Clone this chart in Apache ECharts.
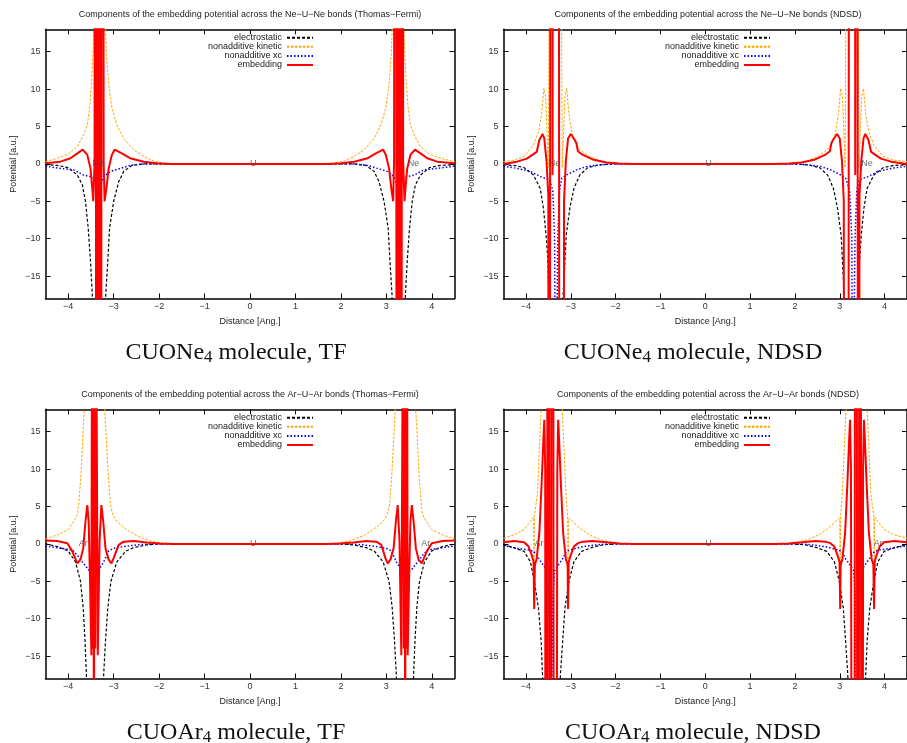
<!DOCTYPE html>
<html>
<head>
<meta charset="utf-8">
<script src="https://cdn.jsdelivr.net/npm/echarts@6.0.0/dist/echarts.min.js"></script>
<style>
  html, body { margin: 0; padding: 0; background: #fff; }
  #chart { width: 907px; height: 743px; }
</style>
</head>
<body>
<div id="chart"></div>
<script>
// ticks and names
const xTicks = [-4, -3, -2, -1, 0, 1, 2, 3, 4];
const yTicks = [-15, -10, -5, 0, 5, 10, 15];
const seriesNames = ['electrostatic', 'nonadditive kinetic', 'nonadditive xc', 'embedding'];

const titles = [
  'Components of the embedding potential across the Ne\u2212U\u2212Ne bonds (Thomas\u2212Fermi)',
  'Components of the embedding potential across the Ne\u2212U\u2212Ne bonds (NDSD)',
  'Components of the embedding potential across the Ar\u2212U\u2212Ar bonds (Thomas\u2212Fermi)',
  'Components of the embedding potential across the Ar\u2212U\u2212Ar bonds (NDSD)'
];
const captions = [
  '{a|CUONe}{s|4}{a| molecule, TF}',
  '{a|CUONe}{s|4}{a| molecule, NDSD}',
  '{a|CUOAr}{s|4}{a| molecule, TF}',
  '{a|CUOAr}{s|4}{a| molecule, NDSD}'
];

// atom labels (left-justified at these x positions, y = 0)
const neAtoms = ['Ne', 'U', 'Ne'];
const arAtoms = ['Ar', 'U', 'Ar'];
const neTF_atomX = [-3.47, 0, 3.47];
const neND_atomX = [-3.49, 0, 3.48];
const arTF_atomX = [-3.77, 0, 3.77];
const arND_atomX = [-3.81, 0, 3.76];

// ---- CUONe4, Thomas-Fermi ----
const neTF_elec = [[-4.5,-0.1],[-4.24,-0.2],[-4.0,-0.5],[-3.8,-1.5],[-3.69,-2.8],[-3.62,-5],[-3.56,-8.6],[-3.51,-13],[-3.47,-17.5],[-3.44,-24],[-3.32,-60],[-3.19,-24],[-3.175,-17.5],[-3.13,-13],[-3.09,-8.6],[-3.0,-5],[-2.89,-2.4],[-2.78,-1.0],[-2.6,-0.2],[-2.34,0],
  [2.29,0],[2.55,-0.2],[2.73,-1.0],[2.84,-2.4],[2.95,-5],[3.04,-8.6],[3.08,-13],[3.125,-17.5],[3.14,-24],[3.27,-60],[3.39,-24],[3.42,-17.5],[3.46,-13],[3.51,-8.6],[3.57,-5],[3.64,-2.8],[3.75,-1.5],[3.95,-0.5],[4.19,-0.2],[4.5,-0.1]];
const neTF_kin = [[-4.5,0.3],[-4.24,0.76],[-4.0,1.3],[-3.8,2.3],[-3.66,3.9],[-3.58,5.2],[-3.53,7.5],[-3.49,10.6],[-3.45,15.5],[-3.43,20],[-3.32,60],[-3.19,20],[-3.16,14.6],[-3.11,10.6],[-3.04,7.5],[-2.93,5.2],[-2.78,3.4],[-2.56,1.9],[-2.34,1.0],[-2.12,0.4],[-1.9,0.1],[-1.6,0],
  [1.55,0],[1.85,0.1],[2.07,0.4],[2.29,1.0],[2.51,1.9],[2.73,3.4],[2.88,5.2],[2.99,7.5],[3.06,10.6],[3.11,14.6],[3.14,20],[3.27,60],[3.38,20],[3.40,15.5],[3.44,10.6],[3.48,7.5],[3.53,5.2],[3.61,3.9],[3.75,2.3],[3.95,1.3],[4.19,0.76],[4.5,0.3]];
const neTF_xc = [[-4.5,-0.3],[-4.17,-0.6],[-3.88,-0.8],[-3.66,-1.5],[-3.51,-1.7],[-3.44,-1.9],[-3.38,-2.6],[-3.32,-3.5],[-3.26,-2.4],[-3.22,-1.7],[-3.07,-1.0],[-2.85,-0.6],[-2.64,-0.2],[-2.34,0],
  [2.29,0],[2.59,-0.2],[2.8,-0.6],[3.02,-1.0],[3.17,-1.7],[3.21,-2.4],[3.27,-3.5],[3.33,-2.6],[3.39,-1.9],[3.46,-1.7],[3.61,-1.5],[3.83,-0.8],[4.12,-0.6],[4.5,-0.3]];
const neTF_emb = [[-4.5,0.1],[-4.17,0.3],[-3.95,0.76],[-3.8,1.4],[-3.68,1.9],[-3.58,1.2],[-3.51,-0.6],[-3.47,-3.3],[-3.45,-5.0],[-3.42,0.3],[-3.41,200],[-3.37,-200],[-3.33,200],[-3.29,-200],[-3.25,200],[-3.22,0.3],[-3.20,-5.0],[-3.16,-3.3],[-3.11,-0.6],[-3.04,1.2],[-2.98,1.9],[-2.82,1.4],[-2.64,0.76],[-2.34,0.3],[-2.05,0.1],[-1.76,0],
  [1.71,0],[2.0,0.1],[2.29,0.3],[2.59,0.76],[2.77,1.4],[2.93,1.9],[2.99,1.2],[3.06,-0.6],[3.11,-3.3],[3.15,-5.0],[3.17,0.3],[3.20,200],[3.24,-200],[3.28,200],[3.32,-200],[3.36,200],[3.37,0.3],[3.40,-5.0],[3.42,-3.3],[3.46,-0.6],[3.53,1.2],[3.63,1.9],[3.75,1.4],[3.9,0.76],[4.12,0.3],[4.5,0.1]];

// ---- CUONe4, NDSD ----
const neND_elec = [[-4.5,-0.13],[-4.27,-0.2],[-4.04,-0.5],[-3.83,-1.5],[-3.68,-3.3],[-3.61,-5.9],[-3.55,-9.5],[-3.51,-13],[-3.49,-17.5],[-3.46,-25],[-3.34,-60],[-3.2,-25],[-3.17,-17.5],[-3.13,-13],[-3.10,-9.5],[-3.02,-5.9],[-2.93,-3.3],[-2.80,-1.5],[-2.62,-0.5],[-2.36,-0.13],[-2.07,0],
  [2.0,0],[2.29,-0.13],[2.55,-0.5],[2.73,-1.5],[2.86,-3.3],[2.95,-5.9],[3.03,-9.5],[3.06,-13],[3.10,-17.5],[3.13,-25],[3.27,-60],[3.39,-25],[3.42,-17.5],[3.44,-13],[3.48,-9.5],[3.54,-5.9],[3.61,-3.3],[3.76,-1.5],[3.97,-0.5],[4.2,-0.2],[4.5,-0.13]];
const neND_kin = [[-4.5,0.3],[-4.27,0.5],[-4.04,1.0],[-3.83,2.5],[-3.72,4.3],[-3.65,6.6],[-3.60,10.1],[-3.56,9.0],[-3.52,3],[-3.50,-0.5],[-3.47,40],[-3.22,40],[-3.19,-0.5],[-3.17,3],[-3.13,9.0],[-3.09,10.1],[-3.04,6.6],[-2.95,3.4],[-2.80,1.9],[-2.58,1.0],[-2.36,0.4],[-2.07,0.1],[-1.8,0],
  [1.73,0],[2.0,0.1],[2.29,0.4],[2.51,1.0],[2.73,1.9],[2.88,3.4],[2.97,6.6],[3.02,10.1],[3.06,9.0],[3.10,3],[3.12,-0.5],[3.15,40],[3.40,40],[3.43,-0.5],[3.45,3],[3.49,9.0],[3.53,10.1],[3.58,6.6],[3.65,4.3],[3.76,2.5],[3.97,1.0],[4.2,0.5],[4.5,0.3]];
const neND_xc = [[-4.5,-0.3],[-4.2,-0.6],[-3.9,-1.0],[-3.68,-1.7],[-3.48,-2.1],[-3.40,-3.5],[-3.36,-10],[-3.34,-40],[-3.31,-40],[-3.29,-10],[-3.25,-3.5],[-3.2,-1.9],[-3.1,-1.5],[-2.87,-0.8],[-2.65,-0.36],[-2.36,-0.13],[-2.0,0],
  [1.93,0],[2.29,-0.13],[2.58,-0.36],[2.8,-0.8],[3.03,-1.5],[3.13,-1.9],[3.22,-3.5],[3.27,-10],[3.29,-40],[3.32,-40],[3.34,-10],[3.38,-3.5],[3.44,-2.1],[3.63,-1.7],[3.85,-1.0],[4.15,-0.6],[4.5,-0.3]];
const neND_emb = [[-4.5,0],[-4.2,0.3],[-3.98,0.7],[-3.83,1.3],[-3.76,1.6],[-3.70,3.2],[-3.63,4.0],[-3.59,3.4],[-3.54,0.3],[-3.50,-4.2],[-3.48,-200],[-3.44,200],[-3.405,-1.5],[-3.39,200],[-3.28,200],[-3.24,-200],[-3.17,-200],[-3.15,-5],[-3.11,0.3],[-3.06,3.4],[-3.0,4.0],[-2.93,3.4],[-2.875,2.8],[-2.84,1.7],[-2.73,1.2],[-2.51,0.6],[-2.21,0.2],[-1.92,0.05],[-1.6,0],
  [1.54,0],[1.86,0.05],[2.15,0.2],[2.45,0.6],[2.67,1.2],[2.78,1.7],[2.815,2.8],[2.87,3.4],[2.94,4.0],[3.0,3.4],[3.05,0.3],[3.09,-5],[3.11,-200],[3.18,-200],[3.22,200],[3.33,200],[3.345,-1.5],[3.38,200],[3.42,-200],[3.44,-4.2],[3.48,0.3],[3.53,3.4],[3.57,4.0],[3.64,3.2],[3.70,1.6],[3.77,1.3],[3.92,0.7],[4.14,0.3],[4.5,0]];

// ---- CUOAr4, Thomas-Fermi ----
const arTF_elec = [[-4.5,0],[-4.24,-0.36],[-4.0,-0.94],[-3.84,-2.4],[-3.73,-5],[-3.67,-8.6],[-3.63,-13],[-3.60,-17.5],[-3.57,-25],[-3.41,-60],[-3.25,-25],[-3.22,-17.5],[-3.18,-13],[-3.13,-8.6],[-3.06,-5],[-2.93,-2.4],[-2.74,-1.0],[-2.56,-0.5],[-2.27,-0.13],[-1.98,0],
  [1.98,0],[2.27,-0.13],[2.56,-0.5],[2.74,-1.0],[2.93,-2.4],[3.06,-5],[3.13,-8.6],[3.18,-13],[3.22,-17.5],[3.25,-25],[3.41,-60],[3.57,-25],[3.60,-17.5],[3.63,-13],[3.67,-8.6],[3.73,-5],[3.84,-2.4],[4.0,-0.94],[4.24,-0.36],[4.5,0]];
const arTF_kin = [[-4.5,0.67],[-4.24,1.2],[-4.0,1.9],[-3.84,3.4],[-3.80,3.9],[-3.77,5.2],[-3.72,9.2],[-3.67,15.5],[-3.64,18.5],[-3.42,60],[-3.20,18.5],[-3.175,15.5],[-3.12,9.2],[-3.07,5.2],[-3.02,3.9],[-2.93,3.0],[-2.71,1.9],[-2.49,1.1],[-2.2,0.4],[-1.9,0.1],[-1.6,0],
  [1.6,0],[1.9,0.1],[2.2,0.4],[2.49,1.1],[2.71,1.9],[2.93,3.0],[3.02,3.9],[3.07,5.2],[3.12,9.2],[3.175,15.5],[3.20,18.5],[3.42,60],[3.64,18.5],[3.67,15.5],[3.72,9.2],[3.77,5.2],[3.80,3.9],[3.84,3.4],[4.0,1.9],[4.24,1.2],[4.5,0.67]];
const arTF_xc = [[-4.5,-0.27],[-4.17,-0.58],[-3.91,-0.8],[-3.80,-1.5],[-3.69,-2.4],[-3.55,-3.5],[-3.45,-3.7],[-3.33,-3.5],[-3.22,-2.4],[-3.11,-0.94],[-3.0,-0.6],[-2.78,-0.36],[-2.49,-0.13],[-2.2,0],
  [2.2,0],[2.49,-0.13],[2.78,-0.36],[3.0,-0.6],[3.11,-0.94],[3.22,-2.4],[3.33,-3.5],[3.45,-3.7],[3.55,-3.5],[3.69,-2.4],[3.80,-1.5],[3.91,-0.8],[4.17,-0.58],[4.5,-0.27]];
const arTF_emb = [[-4.5,0.45],[-4.24,0.4],[-4.02,0.1],[-3.91,-1.0],[-3.80,-2.6],[-3.73,-2.1],[-3.67,-0.6],[-3.62,3.0],[-3.58,5.2],[-3.55,3.0],[-3.52,-5],[-3.49,-14.9],[-3.475,40],[-3.46,-14],[-3.447,40],[-3.435,-40],[-3.42,40],[-3.405,-14],[-3.39,40],[-3.35,-14.9],[-3.31,0.3],[-3.27,5.2],[-3.23,3.0],[-3.18,-0.6],[-3.11,-2.1],[-3.05,-2.6],[-3.0,-1.9],[-2.89,-0.13],[-2.78,0.3],[-2.56,0.4],[-2.27,0.2],[-1.98,0.05],[-1.7,0],
  [1.7,0],[1.98,0.05],[2.27,0.2],[2.56,0.4],[2.78,0.3],[2.89,-0.13],[2.98,-1.9],[3.03,-2.6],[3.09,-2.1],[3.16,-0.6],[3.21,3.0],[3.25,5.2],[3.29,0.3],[3.33,-14.9],[3.37,40],[3.385,-14],[3.40,40],[3.415,-40],[3.427,40],[3.44,-14],[3.455,40],[3.47,-14.9],[3.50,-5],[3.53,3.0],[3.56,5.2],[3.60,3.0],[3.65,-0.6],[3.71,-2.1],[3.78,-2.6],[3.89,-1.0],[4.0,0.1],[4.24,0.4],[4.5,0.45]];

// ---- CUOAr4, NDSD ----
const arND_elec = [[-4.5,-0.13],[-4.27,-0.5],[-4.04,-1.0],[-3.90,-2.4],[-3.81,-5],[-3.72,-8.6],[-3.66,-13],[-3.63,-17.5],[-3.60,-25],[-3.44,-60],[-3.26,-25],[-3.23,-17.5],[-3.18,-13],[-3.13,-8.6],[-3.04,-5],[-2.93,-2.4],[-2.76,-1.0],[-2.54,-0.5],[-2.29,-0.13],[-1.99,0],
  [1.94,0],[2.24,-0.13],[2.49,-0.5],[2.71,-1.0],[2.88,-2.4],[2.99,-5],[3.08,-8.6],[3.13,-13],[3.18,-17.5],[3.21,-25],[3.39,-60],[3.55,-25],[3.58,-17.5],[3.61,-13],[3.67,-8.6],[3.76,-5],[3.85,-2.4],[3.99,-1.0],[4.22,-0.5],[4.5,-0.13]];
const arND_kin = [[-4.5,0.76],[-4.27,1.2],[-4.04,1.9],[-3.90,3.0],[-3.83,3.6],[-3.82,-2.4],[-3.81,3.8],[-3.77,5.5],[-3.74,7.0],[-3.70,12.8],[-3.66,18],[-3.63,25],[-3.42,60],[-3.21,25],[-3.19,18],[-3.15,12.8],[-3.11,7.0],[-3.07,3.6],[-3.06,-2.4],[-3.05,3.4],[-2.99,3.2],[-2.80,2.1],[-2.58,1.2],[-2.36,0.6],[-2.07,0.18],[-1.77,0],
  [1.72,0],[2.02,0.18],[2.31,0.6],[2.53,1.2],[2.75,2.1],[2.94,3.2],[3.0,3.4],[3.01,-2.4],[3.02,3.6],[3.06,7.0],[3.10,12.8],[3.14,18],[3.16,25],[3.37,60],[3.58,25],[3.61,18],[3.65,12.8],[3.69,7.0],[3.72,5.5],[3.76,3.8],[3.77,-2.4],[3.78,3.6],[3.85,3.0],[3.99,1.9],[4.22,1.2],[4.5,0.76]];
const arND_xc = [[-4.5,-0.22],[-4.2,-0.6],[-3.94,-0.8],[-3.83,-1.0],[-3.72,-1.9],[-3.56,-3.3],[-3.52,-3.9],[-3.49,-7],[-3.465,-40],[-3.43,-40],[-3.40,-7],[-3.36,-3.6],[-3.30,-3.0],[-3.17,-1.9],[-3.10,-1.0],[-2.95,-0.7],[-2.73,-0.36],[-2.43,-0.13],[-2.14,0],
  [2.09,0],[2.38,-0.13],[2.68,-0.36],[2.9,-0.7],[3.05,-1.0],[3.12,-1.9],[3.25,-3.0],[3.31,-3.6],[3.35,-7],[3.38,-40],[3.415,-40],[3.44,-7],[3.47,-3.9],[3.51,-3.3],[3.67,-1.9],[3.78,-1.0],[3.89,-0.8],[4.15,-0.6],[4.5,-0.22]];
const arND_emb = [[-4.5,0.22],[-4.27,0.4],[-4.04,0.22],[-3.94,-0.36],[-3.87,-1.5],[-3.83,-2.4],[-3.815,-8.7],[-3.80,-2.8],[-3.76,-2.0],[-3.70,1.5],[-3.65,8],[-3.61,14],[-3.59,16.6],[-3.57,10],[-3.55,-200],[-3.50,200],[-3.46,-200],[-3.41,200],[-3.36,-200],[-3.30,10],[-3.28,16.6],[-3.26,14],[-3.22,8],[-3.17,1.5],[-3.11,-2.0],[-3.07,-2.8],[-3.06,-8.7],[-3.045,-2.4],[-3.0,-1.5],[-2.93,-0.36],[-2.84,0.1],[-2.73,0.3],[-2.51,0.4],[-2.21,0.22],[-1.92,0.05],[-1.6,0],
  [1.55,0],[1.87,0.05],[2.16,0.22],[2.46,0.4],[2.68,0.3],[2.79,0.1],[2.88,-0.36],[2.95,-1.5],[2.995,-2.4],[3.01,-8.7],[3.02,-2.8],[3.06,-2.0],[3.12,1.5],[3.17,8],[3.21,14],[3.23,16.6],[3.25,10],[3.31,-200],[3.36,200],[3.41,-200],[3.45,200],[3.50,-200],[3.52,10],[3.54,16.6],[3.56,14],[3.60,8],[3.65,1.5],[3.71,-2.0],[3.75,-2.8],[3.765,-8.7],[3.78,-2.4],[3.82,-1.5],[3.89,-0.36],[3.99,0.22],[4.22,0.4],[4.5,0.22]];

// panel layout
const panels = [
  { left: 45.5,  top: 29.3,  cx: 250, capX: 236, data: [neTF_elec, neTF_kin, neTF_xc, neTF_emb], atoms: neAtoms, atomX: neTF_atomX },
  { left: 503.5, top: 29.3,  cx: 708, capX: 693, data: [neND_elec, neND_kin, neND_xc, neND_emb], atoms: neAtoms, atomX: neND_atomX },
  { left: 45.5,  top: 409.3, cx: 250, capX: 236, data: [arTF_elec, arTF_kin, arTF_xc, arTF_emb], atoms: arAtoms, atomX: arTF_atomX },
  { left: 503.5, top: 409.3, cx: 708, capX: 693, data: [arND_elec, arND_kin, arND_xc, arND_emb], atoms: arAtoms, atomX: arND_atomX }
];
const plotW = 409, plotH = 269.2;

const lineStyles = [
  { color: '#000000', width: 1.2, type: [3, 2] },
  { color: '#FFA500', width: 1, type: [2.5, 1.5] },
  { color: '#0000FF', width: 1.5, type: [1.5, 2] },
  { color: '#FF0000', width: 2, type: 'solid' }
];

const font = 'Liberation Sans, Arial, sans-serif';
const minus = v => String(v).replace('-', '\u2212');
const border = { show: true, onZero: false, lineStyle: { color: '#000', width: 1.5 } };

const grid = [], xAxis = [], yAxis = [], series = [], legend = [], graphic = [];

panels.forEach((p, i) => {
  grid.push({ left: p.left, top: p.top, width: plotW, height: plotH });

  const xBase = { gridIndex: i, type: 'value', min: -4.5, max: 4.5, axisLine: border, splitLine: { show: false },
    axisTick: { inside: true, length: 5, customValues: xTicks, lineStyle: { color: '#000' } } };
  xAxis.push(Object.assign({}, xBase, {
    position: 'bottom', name: 'Distance [Ang.]', nameLocation: 'middle', nameGap: 19,
    nameTextStyle: { fontSize: 9, color: '#222', fontFamily: font },
    axisLabel: { customValues: xTicks, formatter: minus, fontSize: 9, color: '#333', margin: 4, fontFamily: font }
  }));
  xAxis.push(Object.assign({}, xBase, { position: 'top', axisLabel: { show: false } }));

  const yBase = { gridIndex: i, type: 'value', min: -18, max: 18, axisLine: border, splitLine: { show: false },
    axisTick: { inside: true, length: 5, customValues: yTicks, lineStyle: { color: '#000' } } };
  yAxis.push(Object.assign({}, yBase, {
    position: 'left', name: 'Potential [a.u.]', nameLocation: 'middle', nameGap: 27,
    nameTextStyle: { fontSize: 9, color: '#222', fontFamily: font },
    axisLabel: { customValues: yTicks, formatter: minus, fontSize: 9, color: '#333', margin: 5, fontFamily: font }
  }));
  yAxis.push(Object.assign({}, yBase, { position: 'right', axisLabel: { show: false } }));

  p.data.forEach((d, k) => {
    series.push({
      type: 'line', name: seriesNames[k], xAxisIndex: 2 * i, yAxisIndex: 2 * i,
      data: d, symbol: 'none', showSymbol: false, clip: true, smooth: false,
      lineStyle: lineStyles[k], itemStyle: { color: lineStyles[k].color }, z: 3 + k
    });
  });

  // atom labels
  series.push({
    type: 'scatter', name: 'atoms' + i, xAxisIndex: 2 * i, yAxisIndex: 2 * i, symbolSize: 0, silent: true, z: 20,
    data: p.atomX.map((x, k) => ({ value: [x, 0], name: p.atoms[k] })),
    label: { show: true, position: 'right', distance: 0, formatter: '{b}', fontSize: 9, color: '#444', fontFamily: font }
  });

  legend.push({
    data: seriesNames, orient: 'vertical', align: 'right', selectedMode: false,
    right: i % 2 === 0 ? 593 : 136, top: p.top + 3.9,
    itemWidth: 26, itemHeight: 9, itemGap: 0.1, padding: 0,
    itemStyle: { opacity: 0 },
    textStyle: { fontSize: 9, color: '#222', fontFamily: font }
  });

  graphic.push({
    type: 'text', x: p.cx, y: p.top - 14.3,
    style: { text: titles[i], align: 'center', verticalAlign: 'middle', fontSize: 9, fill: '#222', fontFamily: font }
  });
  graphic.push({
    type: 'text', x: p.capX, y: p.top + 323,
    style: {
      text: captions[i], align: 'center', verticalAlign: 'middle', fill: '#111',
      rich: {
        a: { fontSize: 24, lineHeight: 28, fontFamily: 'Liberation Serif, serif', color: '#111' },
        s: { fontSize: 17, lineHeight: 17, verticalAlign: 'bottom', fontFamily: 'Liberation Serif, serif', color: '#111' }
      }
    }
  });
});

const chart = echarts.init(document.getElementById('chart'), null, { renderer: 'canvas' });
chart.setOption({
  backgroundColor: '#fff',
  animation: false,
  textStyle: { fontFamily: font },
  grid, xAxis, yAxis, series, legend, graphic
});
</script>
</body>
</html>
